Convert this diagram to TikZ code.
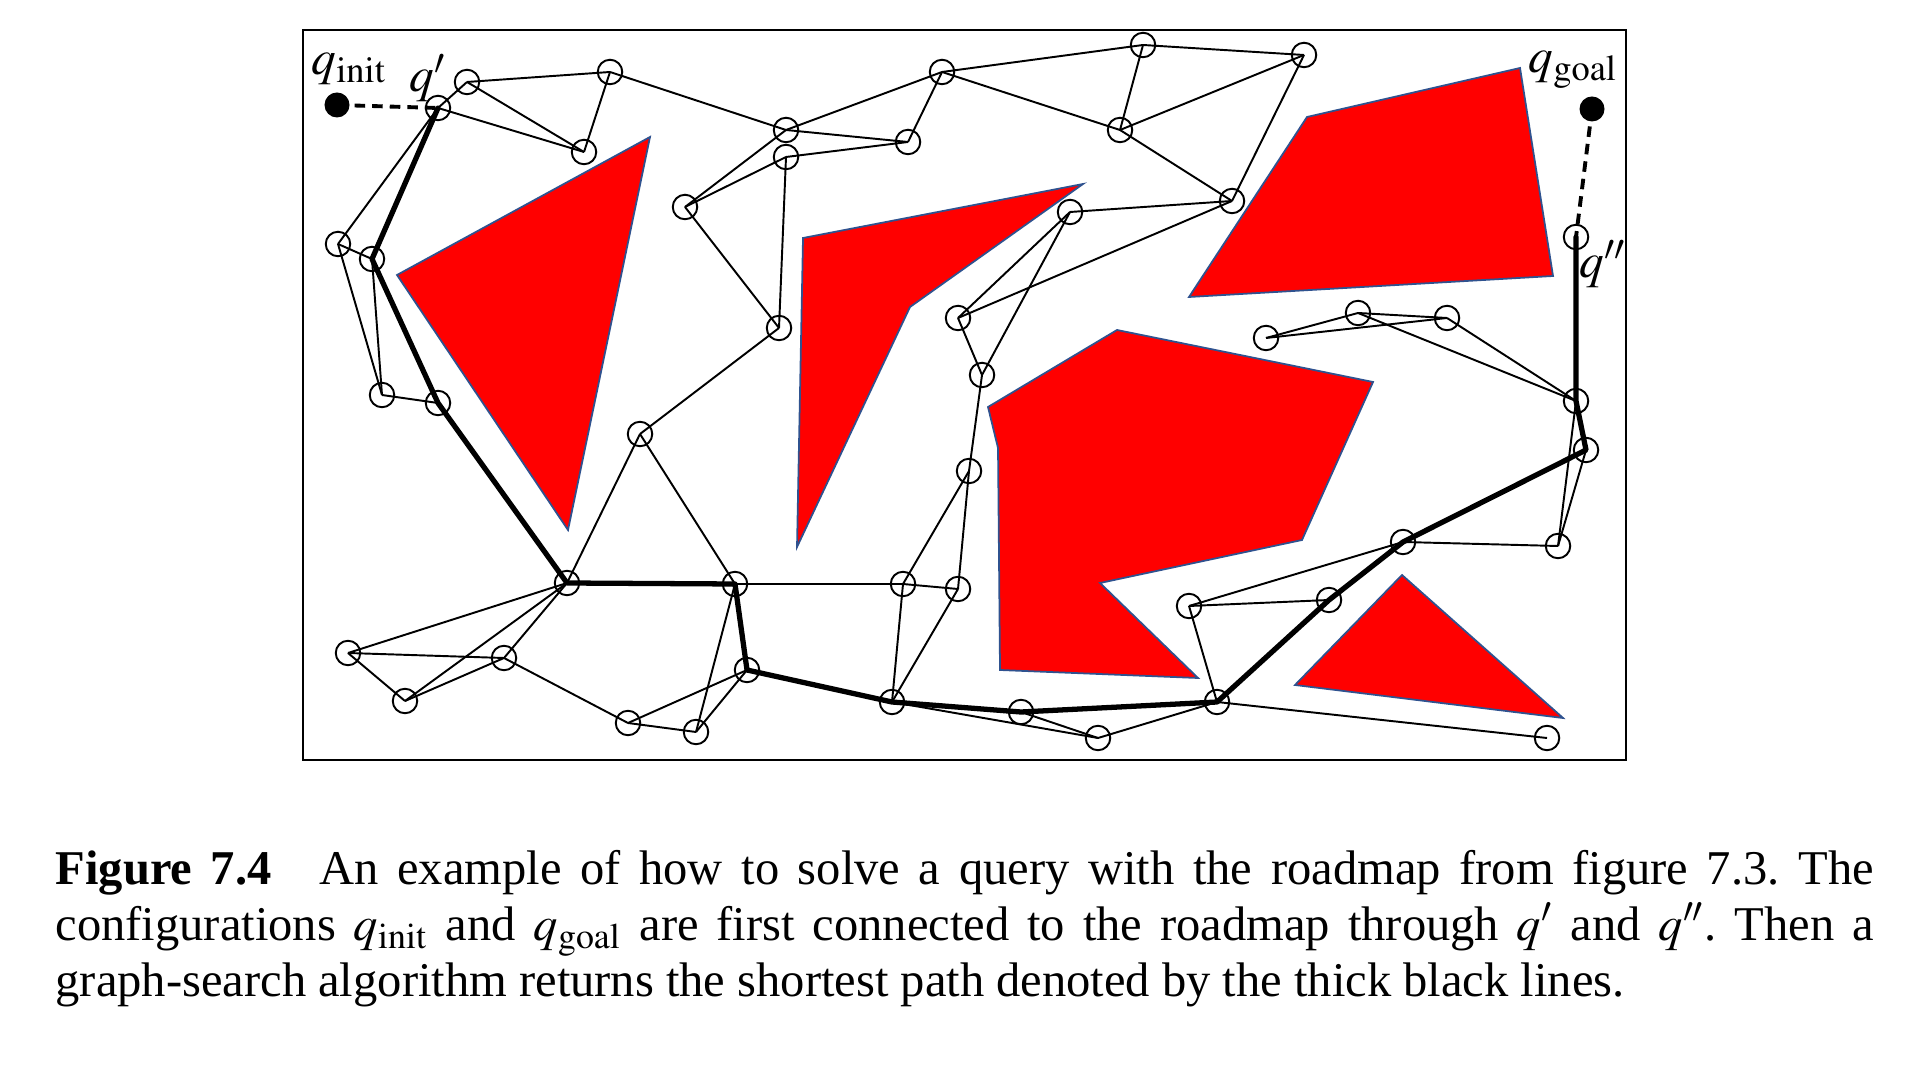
\documentclass[tikz,border=0pt]{standalone}
\usepackage{mathptmx}
\usepackage{fontspec}
\setmainfont{Liberation Serif}
\definecolor{obline}{RGB}{47,82,143}
\begin{document}
\begin{tikzpicture}[x=0.01cm,y=-0.01cm,
  rm/.style={circle,draw,line width=0.55pt,minimum size=0.245cm,inner sep=0pt},
  qdot/.style={circle,fill=black,minimum size=0.25cm,inner sep=0pt},
  edge/.style={line width=0.55pt},
  pathedge/.style={line width=1.5pt,line cap=round,line join=round},
  qdash/.style={line width=1.1pt,dash pattern=on 3pt off 2pt},
  obstacle/.style={fill=red,draw=obline,line width=0.5pt},
  lbl/.style={font=\fontsize{14}{16}\selectfont,inner sep=0pt}]
\useasboundingbox (0,0) rectangle (1916,1080);
% frame
\draw[line width=0.8pt] (303,30) rectangle (1626,760);
% obstacles
\filldraw[obstacle] (397,275) -- (650,137) -- (568,530) -- cycle;
\filldraw[obstacle] (803,238) -- (1083,184) -- (910,307) -- (797,547) -- cycle;
\filldraw[obstacle] (1189,297) -- (1307,117) -- (1520,68) -- (1553,276) -- cycle;
\filldraw[obstacle] (1117,330) -- (1373,382) -- (1302,540) -- (1100,583) -- (1198,678) -- (1000,670) -- (998,448) -- (988,407) -- cycle;
\filldraw[obstacle] (1402,575) -- (1563,718) -- (1295,685) -- cycle;
% roadmap nodes
\node[qdot] (qi) at (337,105) {};
\node[qdot] (qg) at (1592,109) {};
\node[rm] (q1) at (438,108) {};
\node[rm] (q2) at (1576,237) {};
\node[rm] (na) at (467,82) {};
\node[rm] (nb) at (610,72) {};
\node[rm] (nc) at (584,152) {};
\node[rm] (nd) at (338,244) {};
\node[rm] (ne) at (372,259) {};
\node[rm] (nf) at (685,207) {};
\node[rm] (ng) at (382,395) {};
\node[rm] (nh) at (438,403) {};
\node[rm] (ni) at (786,130) {};
\node[rm] (nj) at (786,157) {};
\node[rm] (nk) at (908,142) {};
\node[rm] (nl) at (942,72) {};
\node[rm] (nm) at (1143,45) {};
\node[rm] (nn) at (1120,130) {};
\node[rm] (no) at (779,328) {};
\node[rm] (np) at (1070,212) {};
\node[rm] (nq) at (958,318) {};
\node[rm] (nr) at (982,375) {};
\node[rm] (ns) at (1304,55) {};
\node[rm] (nt) at (1232,201) {};
\node[rm] (nu) at (1266,338) {};
\node[rm] (nv) at (1358,313) {};
\node[rm] (nw) at (1447,318) {};
\node[rm] (nx) at (1576,401) {};
\node[rm] (ny) at (1586,450) {};
\node[rm] (nz) at (1403,542) {};
\node[rm] (naa) at (1558,546) {};
\node[rm] (nab) at (1189,606) {};
\node[rm] (nac) at (1329,600) {};
\node[rm] (nad) at (1217,702) {};
\node[rm] (nae) at (1547,738) {};
\node[rm] (naf) at (969,471) {};
\node[rm] (nag) at (903,584) {};
\node[rm] (nah) at (958,589) {};
\node[rm] (nai) at (747,670) {};
\node[rm] (naj) at (892,702) {};
\node[rm] (nak) at (1021,712) {};
\node[rm] (nal) at (1098,738) {};
\node[rm] (nan) at (735,584) {};
\node[rm] (nao) at (567,583) {};
\node[rm] (nap) at (640,434) {};
\node[rm] (naq) at (348,653) {};
\node[rm] (nar) at (504,658) {};
\node[rm] (nas) at (405,701) {};
\node[rm] (nat) at (628,723) {};
\node[rm] (nau) at (696,732) {};
% thin roadmap edges
\foreach \u/\v in {q1/na, q1/nc, na/nb, na/nc, nb/nc, nb/ni, q1/nd, nd/ne, nd/ng, ne/ng, ng/nh,
  nf/ni, nf/nj, nf/no, ni/nk, ni/nl, nj/nk, nj/no, nk/nl, nl/nm, nl/nn, nm/nn, nm/ns, nn/ns,
  nn/nt, ns/nt, np/nt, nq/nt, np/nq, np/nr, nq/nr, nr/naf, naf/nag, naf/nah, nag/nah,
  nag/naj, nah/naj, nan/nag, naj/nal, nak/nal, nal/nad, nab/nac, nab/nz, nab/nad, nad/nae,
  nz/naa, naa/nx, naa/ny, nv/nx, nw/nx, nu/nv, nu/nw, nv/nw, no/nap, nao/nap, nap/nan,
  nao/naq, nao/nas, nao/nar, naq/nar, naq/nas, nas/nar, nar/nat, nat/nau, nat/nai,
  nau/nai, nau/nan}
  \draw[edge] (\u.center) -- (\v.center);
% shortest path
\draw[pathedge] (q1.center) -- (ne.center) -- (nh.center) -- (nao.center) -- (nan.center)
  -- (nai.center) -- (naj.center) -- (nak.center) -- (nad.center) -- (nac.center)
  -- (nz.center) -- (ny.center) -- (nx.center) -- (q2.center);
\draw[qdash] (qi.center) -- (q1.center);
\draw[qdash] (qg.center) -- (q2.center);
% labels
\node[lbl,anchor=base west] (lqi) at (311,75) {$q_{\mathrm{init}}$};
\node[lbl,anchor=base west] (lq1) at (409,92) {$q'$};
\node[lbl,anchor=base west] (lqg) at (1528,73) {$q_{\mathrm{goal}}$};
\node[lbl,anchor=base west] (lq2) at (1579,278) {$q''$};
% caption
\node[anchor=north west,inner sep=0pt,text width=18.17cm,align=justify,
  font=\fontsize{13.8}{15.8}\selectfont] (cap) at (55,850)
  {\frenchspacing\textbf{Figure 7.4}\hspace{0.6em} An example of how to solve a query with the roadmap from figure 7.3. The\linebreak
   configurations $q_{\mathrm{init}}$ and $q_{\mathrm{goal}}$ are first connected to the roadmap through $q'$ and $q''$. Then a\linebreak
   graph-search algorithm returns the shortest path denoted by the thick black lines.};
\end{tikzpicture}
\end{document}
